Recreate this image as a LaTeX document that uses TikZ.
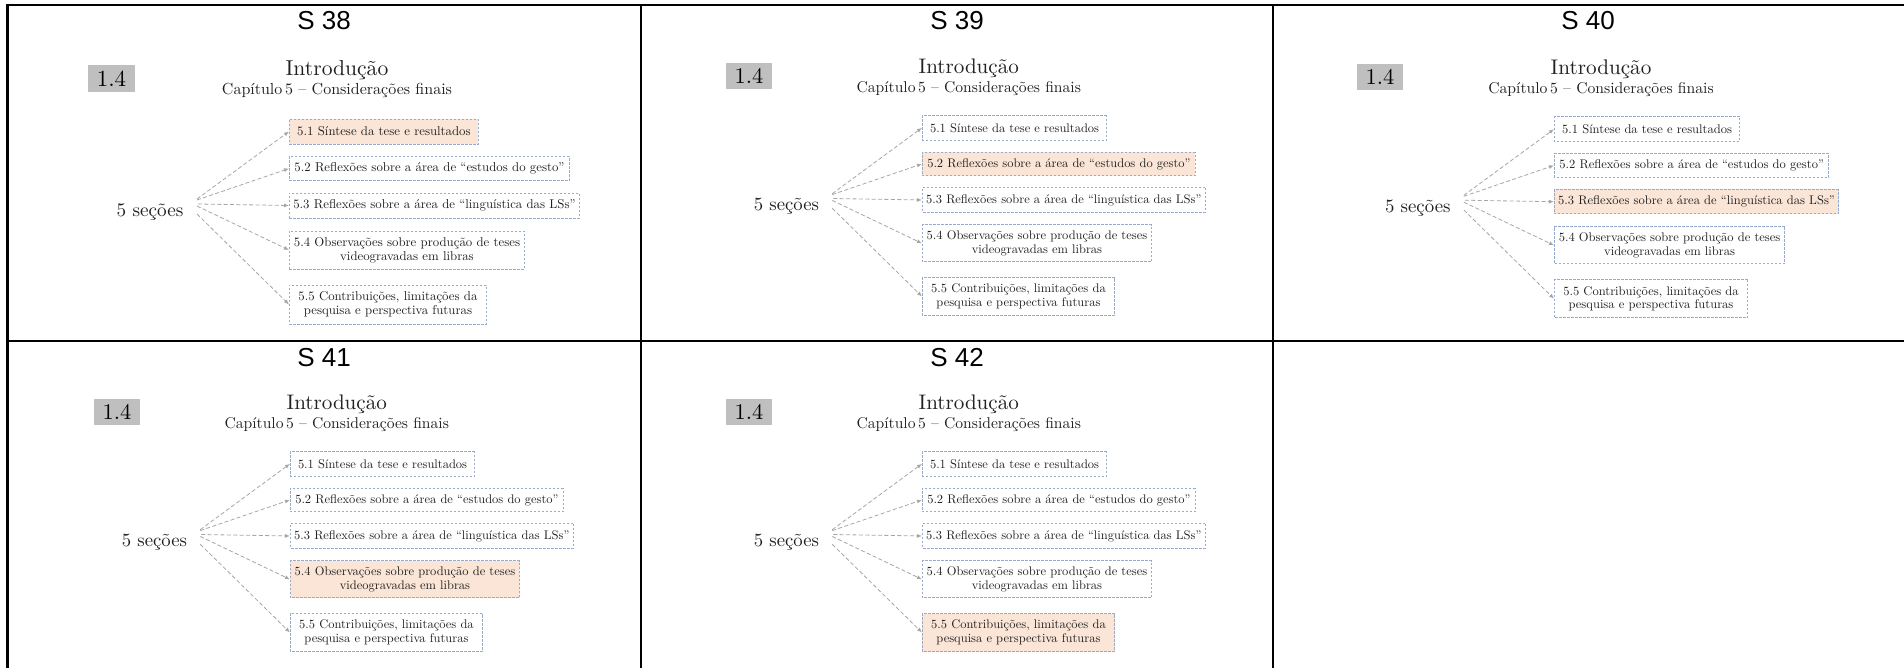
\documentclass[tikz,border=0pt]{standalone}
\usepackage{fontspec}
\setmainfont{lmroman10-regular}[Extension=.otf]
\newfontfamily\sfont{Liberation Sans}
\usetikzlibrary{arrows.meta}
\definecolor{laranja}{HTML}{FBE5D6}
\definecolor{borda}{HTML}{97ABCD}
\definecolor{cinza}{HTML}{BFBFBF}
\definecolor{cinzaseta}{HTML}{A6A6A6}
\definecolor{escuro}{HTML}{202020}
\tikzset{
  grade/.style={line width=1.35pt},
  rotulo/.style={font=\sfont\fontsize{13}{15}\selectfont, anchor=base},
  numbox/.style={fill=cinza, minimum width=23.5pt, minimum height=13.5pt, inner sep=0pt, font=\fontsize{11.5}{13}\selectfont},
  titulo/.style={anchor=base, inner sep=0pt, text=escuro, font=\fontsize{10.8}{13}\selectfont},
  subtit/.style={anchor=base, inner sep=0pt, text=escuro, font=\fontsize{8}{10}\selectfont},
  secoes/.style={anchor=base, inner sep=0pt, text=escuro, font=\fontsize{9.6}{11}\selectfont},
  secbox/.style={draw=borda, dash pattern=on 1.2pt off 0.8pt, line width=0.45pt, anchor=west, align=center,
    inner sep=1pt, text=escuro, font=\fontsize{6.4}{7}\selectfont},
  seta/.style={draw=cinzaseta, dash pattern=on 2pt off 1.2pt, line width=0.4pt, -{Latex[length=2.5pt,width=2pt]}},
  sec1/.style={}, sec2/.style={}, sec3/.style={}, sec4/.style={}, sec5/.style={}
}
% one slide: name, shift x, shift y, scale, highlighted section
\newcommand{\slide}[5]{%
  \begin{scope}[shift={(#2,#3)}, scale=#4, transform shape, sec#5/.style={fill=laranja}]
    \node[numbox] (#1-num) at (23.5,13.5) {1.4};
    \node[titulo] (#1-tit) at (249,11) {Introdução};
    \node[subtit] (#1-cap) at (249,30) {Capítulo\,5 – Considerações finais};
    \node[secoes] (#1-sec) at (62,151.5) {5 seções};
    \node[secbox, sec1, minimum width=94.5pt, minimum height=12.5pt] (#1-b1) at (201,66.5) {5.1 Síntese da tese e resultados};
    \node[secbox, sec2, minimum width=140pt, minimum height=12pt] (#1-b2) at (201,103.5) {5.2 Reflexões sobre a área de “estudos do gesto”};
    \node[secbox, sec3, minimum width=145pt, minimum height=12.5pt] (#1-b3) at (201,140.5) {5.3 Reflexões sobre a área de “linguística das LSs”};
    \node[secbox, sec4, minimum width=117.5pt, minimum height=19pt] (#1-b4) at (201,185) {5.4 Observações sobre produção de teses\\videogravadas em libras};
    \node[secbox, sec5, minimum width=98.5pt, minimum height=19.5pt] (#1-b5) at (201,239.5) {5.5 Contribuições, limitações da\\pesquisa e perspectiva futuras};
    \coordinate (#1-o1) at (109,134);
    \coordinate (#1-o2) at (109,135);
    \coordinate (#1-o3) at (110,139);
    \coordinate (#1-o4) at (109,141);
    \coordinate (#1-o5) at (109,149);
    \draw[seta] (#1-o1) -- (#1-b1.west);
    \draw[seta] (#1-o2) -- (#1-b2.west);
    \draw[seta] (#1-o3) -- (#1-b3.west);
    \draw[seta] (#1-o4) -- (#1-b4.west);
    \draw[seta] (#1-o5) -- (#1-b5.west);
  \end{scope}}
\begin{document}
\begin{tikzpicture}[x=0.5pt, y=-0.5pt]
  \useasboundingbox (0,0) rectangle (1904,668);
  % table
  \draw[grade] (7.5,668) -- (7.5,5) -- (1904,5);
  \draw[grade] (7.5,341) -- (1904,341);
  \draw[grade] (641,5) -- (641,668);
  \draw[grade] (1273,5) -- (1273,668);
  % slide numbers
  \node[rotulo] (s38) at (324,30) {S 38};
  \node[rotulo] (s39) at (957,30) {S 39};
  \node[rotulo] (s40) at (1588,30) {S 40};
  \node[rotulo] (s41) at (324,366) {S 41};
  \node[rotulo] (s42) at (957,366) {S 42};
  % slides
  \slide{a}{88}{65}{1}{1}
  \slide{b}{726}{63}{0.975}{2}
  \slide{c}{1357}{64}{0.98}{3}
  \slide{d}{94}{399}{0.975}{4}
  \slide{e}{726}{399}{0.975}{5}
\end{tikzpicture}
\end{document}
